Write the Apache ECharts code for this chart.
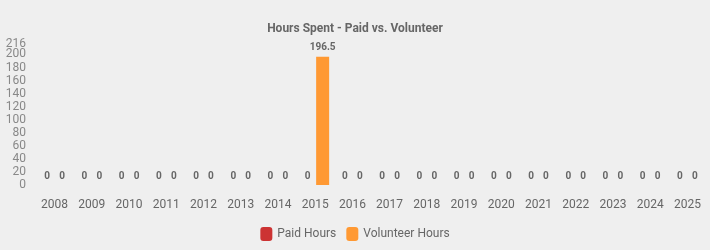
<!DOCTYPE html>
<html><head><meta charset="utf-8">
<script src="https://cdn.jsdelivr.net/npm/echarts@6/dist/echarts.min.js"></script>
<style>html,body{margin:0;padding:0;background:#efefef}#c{width:710px;height:250px}</style>
</head><body><div id="c"></div>
<script>
var categories = ['2008','2009','2010','2011','2012','2013','2014','2015','2016','2017','2018','2019','2020','2021','2022','2023','2024','2025'];
var paidHours = [0,0,0,0,0,0,0,0,0,0,0,0,0,0,0,0,0,0];
var volunteerHours = [0,0,0,0,0,0,0,196.5,0,0,0,0,0,0,0,0,0,0];
var yTickValues = [0,20,40,60,80,100,120,140,160,180,200];
var yMaxTick = 216;

var chart = echarts.init(document.getElementById('c'));
var lbl = {show:true, position:'top', distance:4, color:'#666', fontSize:10, fontWeight:'bold', fontFamily:'Roboto'};
var yBase = {type:'value', position:'left', offset:0, min:0, max:yMaxTick, interval:20,
    axisLine:{show:false}, axisTick:{show:false}, splitLine:{show:false}};
chart.setOption({
  backgroundColor:'#efefef',
  textStyle:{fontFamily:'Roboto'},
  title:{text:'Hours Spent - Paid vs. Volunteer', left:'center', top:18,
    textStyle:{fontSize:12, fontWeight:'bold', color:'#666', fontFamily:'Roboto'}},
  legend:{bottom:4, left:'center', itemWidth:12, itemHeight:14, itemGap:10,
    textStyle:{color:'#666', fontSize:12, fontFamily:'Roboto'},
    data:['Paid Hours','Volunteer Hours']},
  grid:{left:36, right:4, top:44, bottom:65},
  xAxis:{type:'category', data:categories, axisLine:{show:false}, axisTick:{show:false},
    axisLabel:{color:'#666', fontSize:12, margin:14}},
  yAxis:[
    Object.assign({}, yBase, {axisLabel:{color:'#888', fontSize:12, margin:10, customValues:yTickValues}}),
    Object.assign({}, yBase, {axisLabel:{color:'#888', fontSize:12, margin:10, customValues:[yMaxTick]}})
  ],
  series:[
    {name:'Paid Hours', type:'bar', data:paidHours, barWidth:13, barGap:'15%', itemStyle:{color:'#cc3333'}, label:lbl},
    {name:'Volunteer Hours', type:'bar', data:volunteerHours, barWidth:13, itemStyle:{color:'#ff9933'}, label:lbl}
  ]
});
</script></body></html>
